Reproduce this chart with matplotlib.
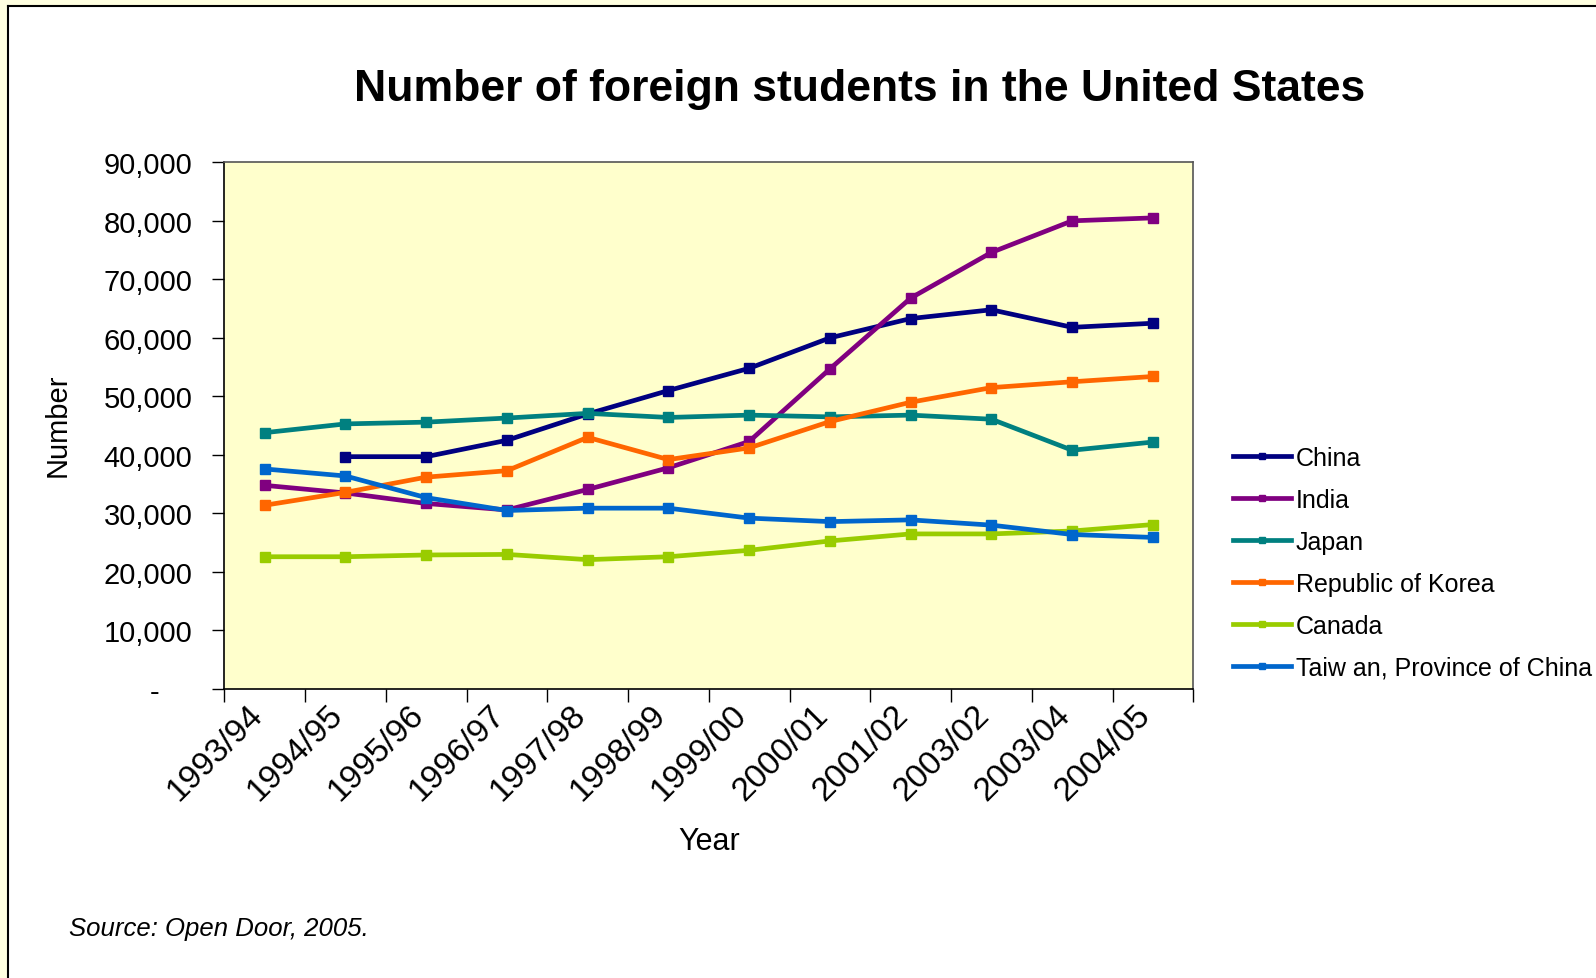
import matplotlib
matplotlib.use("Agg")
import matplotlib.pyplot as plt
from matplotlib.patches import Rectangle
from matplotlib.ticker import FixedLocator, FuncFormatter
import matplotlib.transforms as mtransforms
import numpy as np

plt.rcParams['font.family'] = ['Liberation Sans', 'DejaVu Sans']

years = ["1993/94", "1994/95", "1995/96", "1996/97", "1997/98", "1998/99",
         "1999/00", "2000/01", "2001/02", "2003/02", "2003/04", "2004/05"]

china = [None, 39700, 39700, 42500, 47000, 51000, 54800, 60000, 63300, 64800, 61800, 62500]
india = [34800, 33500, 31700, 30600, 34100, 37800, 42300, 54700, 66800, 74600, 80000, 80500]
japan = [43800, 45300, 45600, 46300, 47100, 46400, 46800, 46500, 46800, 46100, 40800, 42200]
korea = [31400, 33600, 36200, 37300, 43000, 39200, 41200, 45700, 49000, 51500, 52500, 53400]
canada = [22600, 22600, 22900, 23000, 22100, 22600, 23700, 25300, 26500, 26500, 27000, 28100]
taiwan = [37600, 36400, 32700, 30500, 30900, 30900, 29200, 28600, 28900, 28000, 26400, 25900]

series_names = ["China", "India", "Japan", "Republic of Korea", "Canada",
                "Taiw an, Province of China"]
series_values = [china, india, japan, korea, canada, taiwan]
series_colors = ["#000080", "#800080", "#008080", "#FF6600", "#99CC00", "#0066CC"]

yticks = [0, 10000, 20000, 30000, 40000, 50000, 60000, 70000, 80000, 90000]

W, H = 1596, 979
fig = plt.figure(figsize=(W / 100, H / 100), dpi=100)
fig.patch.set_facecolor("#FFFFE0")
# white panel with border on top/left
fig.add_artist(Rectangle((8 / W, 0), 1, 1 - 7 / H, transform=fig.transFigure,
                         facecolor="white", edgecolor="none", zorder=-10))
fig.add_artist(plt.Line2D([8 / W, 8 / W], [0, 1 - 7 / H], transform=fig.transFigure,
                          color="black", lw=1.5, zorder=-9))
fig.add_artist(plt.Line2D([8 / W, 1], [1 - 7 / H, 1 - 7 / H], transform=fig.transFigure,
                          color="black", lw=1.5, zorder=-9))

left, right = 224.3 / W, 1193.3 / W
top, bottom = 1 - 163.3 / H, 1 - 690 / H
ax = fig.add_axes([left, bottom, right - left, top - bottom])
ax.set_zorder(1)
ax.set_facecolor("#FFFFCC")

x = np.arange(len(years))
for name, vals, col in zip(series_names, series_values, series_colors):
    v = np.array([np.nan if a is None else a for a in vals], dtype=float)
    ax.plot(x, v, color=col, lw=3.4, marker="s", markersize=7, label=name,
            solid_joinstyle="round")

ax.set_xlim(-0.5, len(years) - 0.5)
ax.set_ylim(0, 90000)

ax.set_yticks(yticks)
ax.yaxis.set_major_formatter(FuncFormatter(lambda v, p: "-    " if v == 0 else f"{int(v):,}"))
ax.tick_params(axis="y", labelsize=21, length=9, width=1, direction="out", pad=14)

ax.xaxis.set_major_locator(FixedLocator(np.arange(len(years) + 1) - 0.5))
ax.xaxis.set_minor_locator(FixedLocator(x))
ax.xaxis.set_major_formatter(FuncFormatter(lambda v, p: ""))
ax.set_xticklabels(years, minor=True, rotation=45, ha="right", va="center",
                   rotation_mode="anchor")
ax.tick_params(axis="x", which="major", length=9, width=1, direction="out")
ax.tick_params(axis="x", which="minor", length=0, labelsize=24, pad=15)
offset = mtransforms.ScaledTranslation(-0.07, 0, fig.dpi_scale_trans)
for lab in ax.xaxis.get_minorticklabels():
    lab.set_transform(lab.get_transform() + offset)

for s in ["top", "right"]:
    ax.spines[s].set_color("#555555")
    ax.spines[s].set_linewidth(1.2)
for s in ["left", "bottom"]:
    ax.spines[s].set_color("black")
    ax.spines[s].set_linewidth(1.2)

fig.text(860 / W, 1 - 90 / H, "Number of foreign students in the United States",
         ha="center", va="center", fontsize=32, fontweight="bold")
fig.text(58 / W, 1 - 425 / H, "Number", rotation=90, ha="center", va="center", fontsize=21)
fig.text(709 / W, 1 - 842 / H, "Year", ha="center", va="center", fontsize=22)
fig.text(69 / W, 1 - 929 / H, "Source: Open Door, 2005.", ha="left", va="center",
         fontsize=18.5, style="italic")

leg = ax.legend(loc="upper left", bbox_to_anchor=(1233 / W, 1 - 447 / H),
                bbox_transform=fig.transFigure, frameon=False, fontsize=18,
                handlelength=2.3, handletextpad=0.2, labelspacing=0.72,
                borderaxespad=0, borderpad=0, markerscale=0.7)

fig.savefig("out.png", dpi=100, facecolor=fig.get_facecolor())
